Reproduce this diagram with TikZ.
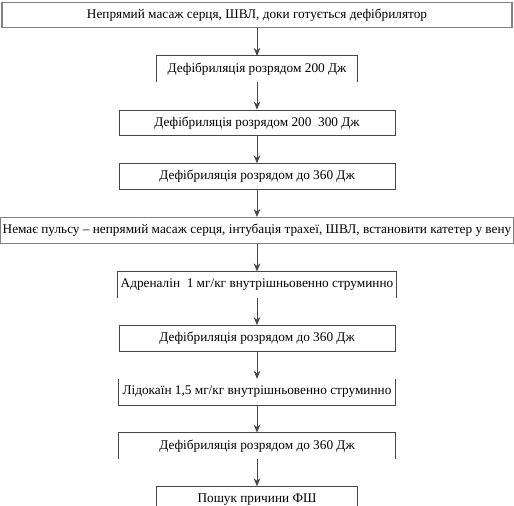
\documentclass[tikz,border=0pt]{standalone}
\usepackage{fontspec}
\setmainfont{Liberation Serif}
\usepackage{xcolor}
\usetikzlibrary{positioning, arrows.meta}
\definecolor{framegray}{RGB}{70, 70, 70}
\definecolor{lightframe}{RGB}{130, 130, 130}

\begin{document}
\begin{tikzpicture}[
    node distance=0.725cm,
    stepbox/.style={
        rectangle, draw=framegray, line width=0.6pt,
        minimum width=7.3cm, minimum height=0.675cm, inner sep=2pt,
        align=center, font=\fontsize{10}{12}\selectfont
    },
    widebox/.style={
        stepbox, draw=lightframe, line width=1.1pt,
        minimum width=13.49cm
    },
    smallbox/.style={stepbox, minimum width=5.29cm},
    openbox/.style={draw=none},
    side/.style={line width=0.6pt, color=framegray},
    arr/.style={-{Stealth[length=6pt, width=5pt]}, line width=0.6pt, color=framegray},
]
\useasboundingbox (-6.80,0.397) rectangle (6.80,-12.966);

% Steps, top to bottom
\node[widebox] (massage)
    {Непрямий масаж серця, ШВЛ, доки готується дефібрилятор};
\node[smallbox, openbox, below=of massage] (shock1)
    {Дефібриляція розрядом 200 Дж};
\node[stepbox, below=of shock1] (shock2)
    {Дефібриляція розрядом 200\enspace 300 Дж};
\node[stepbox, below=of shock2] (shock3)
    {Дефібриляція розрядом до 360 Дж};
\node[widebox, below=of shock3] (nopulse)
    {Немає пульсу – непрямий масаж серця, інтубація трахеї, ШВЛ, встановити катетер у вену};
\node[stepbox, openbox, below=of nopulse] (adren)
    {Адреналін\enspace 1 мг/кг внутрішньовенно струминно};
\node[stepbox, below=of adren] (shock4)
    {Дефібриляція розрядом до 360 Дж};
\node[stepbox, openbox, below=of shock4] (lido)
    {Лідокаїн 1,5 мг/кг внутрішньовенно струминно};
\node[stepbox, openbox, below=of lido] (shock5)
    {Дефібриляція розрядом до 360 Дж};
\node[smallbox, openbox, below=of shock5] (cause)
    {Пошук причини ФШ};

% Open frames
\draw[side] (shock1.south west) |- (shock1.north east) -- (shock1.south east);
\draw[side] (adren.south west) |- (adren.north east) -- (adren.south east);
\draw[side] (lido.north west) |- (lido.south east) -- (lido.north east);
\draw[side] (shock5.south west) |- (shock5.north east) -- (shock5.south east);
\draw[side] (cause.south west) |- (cause.north east) -- (cause.south east);

% Arrows
\draw[arr] (massage) -- (shock1);
\draw[arr] (shock1)  -- (shock2);
\draw[arr] (shock2)  -- (shock3);
\draw[arr] (shock3)  -- (nopulse);
\draw[arr] (nopulse) -- (adren);
\draw[arr] (adren)   -- (shock4);
\draw[arr] (shock4)  -- (lido);
\draw[arr] (lido)    -- (shock5);
\draw[arr] (shock5)  -- (cause);

\end{tikzpicture}
\end{document}
